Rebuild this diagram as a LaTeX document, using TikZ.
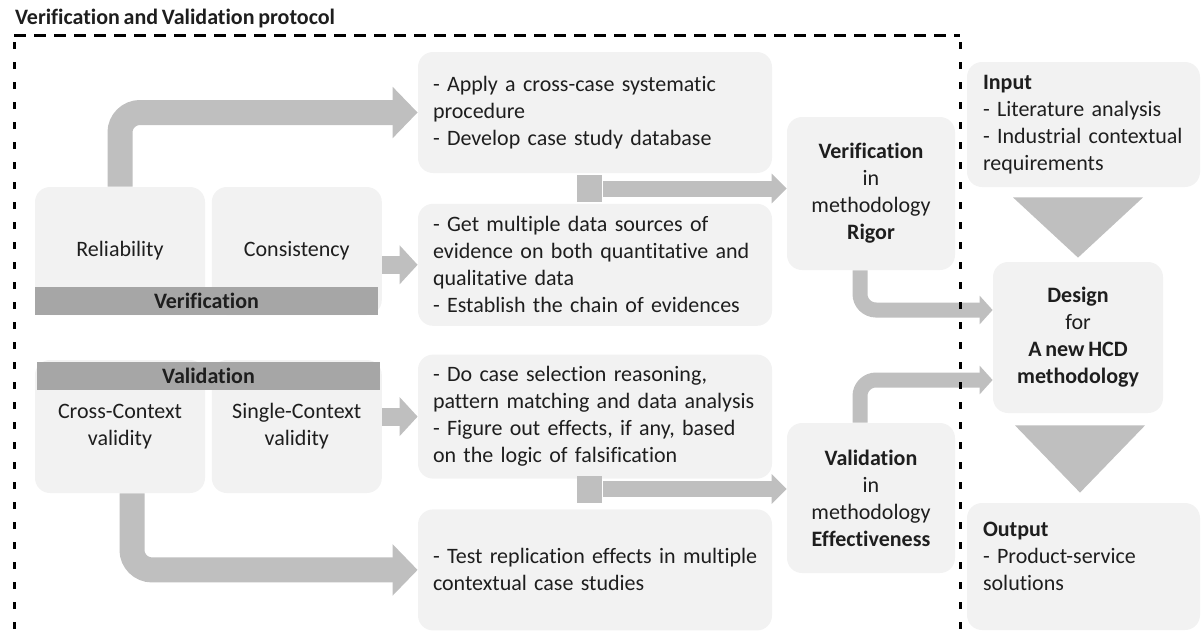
\documentclass[tikz,border=0pt]{standalone}
\usepackage{fontspec}
\setmainfont{Carlito}[Ligatures=NoCommon, WordSpace=0.75]
\usepackage{xcolor}
\usetikzlibrary{arrows.meta,positioning,calc}

\definecolor{boxGray}{HTML}{F2F2F2}
\definecolor{arrowGray}{HTML}{BFBFBF}
\definecolor{barGray}{HTML}{A6A6A6}
\definecolor{textDark}{HTML}{1E1E1E}

\begin{document}
\begin{tikzpicture}[
    x=0.5pt, y=-0.5pt,
    font=\fontsize{11}{13.5}\selectfont,
    every node/.style={text=textDark},
    boxNode/.style={
        rectangle, rounded corners=7.5pt, fill=boxGray, inner sep=0pt, align=center
    },
    listNode/.style={
        boxNode, align=left, text width=162pt, inner xsep=7.5pt, minimum height=61pt
    },
    sideNode/.style={
        boxNode, align=left, text width=100.5pt, inner xsep=8pt
    },
    barNode/.style={
        rectangle, fill=barGray, minimum width=171.5pt, minimum height=14pt, inner sep=0pt
    },
    linkSquare/.style={
        rectangle, fill=arrowGray, minimum width=12.5pt, minimum height=13.5pt, inner sep=0pt
    },
    bigArrow/.style={
        -{Triangle[width=25pt, length=12.5pt]}, line width=12.5pt, draw=arrowGray,
        rounded corners=10pt
    },
    midArrow/.style={
        -{Triangle[width=19pt, length=9pt]}, line width=9pt, draw=arrowGray
    },
    linkArrow/.style={
        -{Triangle[width=14.5pt, length=7.5pt]}, line width=8pt, draw=arrowGray
    },
    sideArrow/.style={
        -{Triangle[width=14pt, length=6.5pt]}, line width=7.5pt, draw=arrowGray,
        rounded corners=8pt
    },
    frameLine/.style={line width=1.5pt, draw=black}
]
\useasboundingbox (0,0) rectangle (1202,639);

% Title
\node[anchor=west, font=\fontsize{11}{12}\selectfont\bfseries] (title) at (8,19)
    {Verification and Validation protocol};

% Left: verification group
\node[boxNode, minimum width=85pt, minimum height=64pt] (relBox) at (120,251) {Reliability};
\node[boxNode, minimum width=85pt, minimum height=64pt, right=3pt of relBox] (conBox) {Consistency};
\node[barNode] (verBar) at (206.5,301) {\textbf{Verification}};

% Left: validation group
\node[boxNode, minimum width=85pt, minimum height=66.5pt] (crossBox) at (120,426.5) {Cross-Context\\validity};
\node[boxNode, minimum width=85pt, minimum height=66.5pt, right=3pt of crossBox] (sglBox) {Single-Context\\validity};
\node[barNode] (valBar) at (208.5,376) {\textbf{Validation}};

% Middle: procedures
\node[listNode, minimum height=60.5pt] (procBox) at (595,112.5) {
    - Apply a cross-case systematic\\
    procedure\\
    - Develop case study database
};
\node[listNode, below=15pt of procBox] (evidBox) {
    \mbox{- Get multiple data sources of}\\
    \mbox{evidence on both quantitative and}\\
    qualitative data\\
    \mbox{- Establish the chain of evidences}
};
\node[listNode, minimum height=62pt, below=14pt of evidBox] (caseBox) {
    \mbox{- Do case selection reasoning,}\\
    \mbox{pattern matching and data analysis}\\
    \mbox{- Figure out effects, if any, based}\\
    on the logic of falsification
};
\node[listNode, minimum height=60.5pt, below=15pt of caseBox] (replBox) {
    \mbox{- Test replication effects in multiple}\\
    contextual case studies
};

\node[linkSquare] (sqA) at (589.5,188.5) {};
\node[linkSquare] (sqB) at (589.5,489) {};

% Right: methodology qualities
\node[boxNode, minimum width=84pt, minimum height=76.5pt] (verBox) at (871,193.5) {
    \textbf{Verification}\\in\\methodology\\\textbf{Rigor}
};
\node[boxNode, minimum width=84pt, minimum height=75pt] (valBox) at (871,498) {
    \textbf{Validation}\\in\\methodology\\\textbf{Effectiveness}
};

% Far right: input, design, output
\node[sideNode, minimum height=62.5pt] (inBox) at (1083.5,124.5) {
    \textbf{Input}\\
    - Literature analysis\\
    - Industrial contextual\\
    requirements
};
\node[boxNode, minimum width=85pt, minimum height=75.5pt] (designBox) at (1078,337.5) {
    \textbf{Design}\\for\\\textbf{A new HCD}\\\textbf{methodology}
};
\node[sideNode, minimum height=63.5pt] (outBox) at (1083.5,566.5) {
    \textbf{Output}\\
    - Product-service\\
    solutions\\[-3pt]\mbox{}
};

% Flows
\draw[bigArrow] (relBox.north) |- (procBox.west);
\draw[midArrow] (conBox.east |- evidBox.west) -- (evidBox.west);
\draw[linkArrow] ([xshift=0.5pt]sqA.east) -- (verBox.west |- sqA.east);

\draw[midArrow] (sglBox.east |- caseBox.west) -- (caseBox.west);
\draw[bigArrow] ([xshift=6pt]crossBox.south) |- (replBox.west);
\draw[linkArrow] ([xshift=0.5pt]sqB.east) -- (valBox.west |- sqB.east);

\draw[sideArrow] ([xshift=-5.5pt]verBox.south) |- ([yshift=13.75pt]designBox.west);
\draw[sideArrow] ([xshift=-5.5pt]valBox.north) |- ([yshift=-21.25pt]designBox.west);

\fill[arrowGray] ($(inBox.south -| designBox.north)+(-65,10)$) -- ++(130,0)
    -- ([yshift=2pt]designBox.north) -- cycle;
\fill[arrowGray] ($(designBox.south)+(-63,12)$) -- ++(130,0)
    -- ($(outBox.north -| designBox.south)+(2,-10)$) -- cycle;

% Protocol frame
\draw[frameLine, dash pattern=on 6pt off 4pt] (14,35) -- (960,35);
\draw[frameLine, dash pattern=on 3.5pt off 6.5pt] (14,42) -- (14,639);
\draw[frameLine, dash pattern=on 3.5pt off 6.5pt] (960,42) -- (960,639);

\end{tikzpicture}
\end{document}
